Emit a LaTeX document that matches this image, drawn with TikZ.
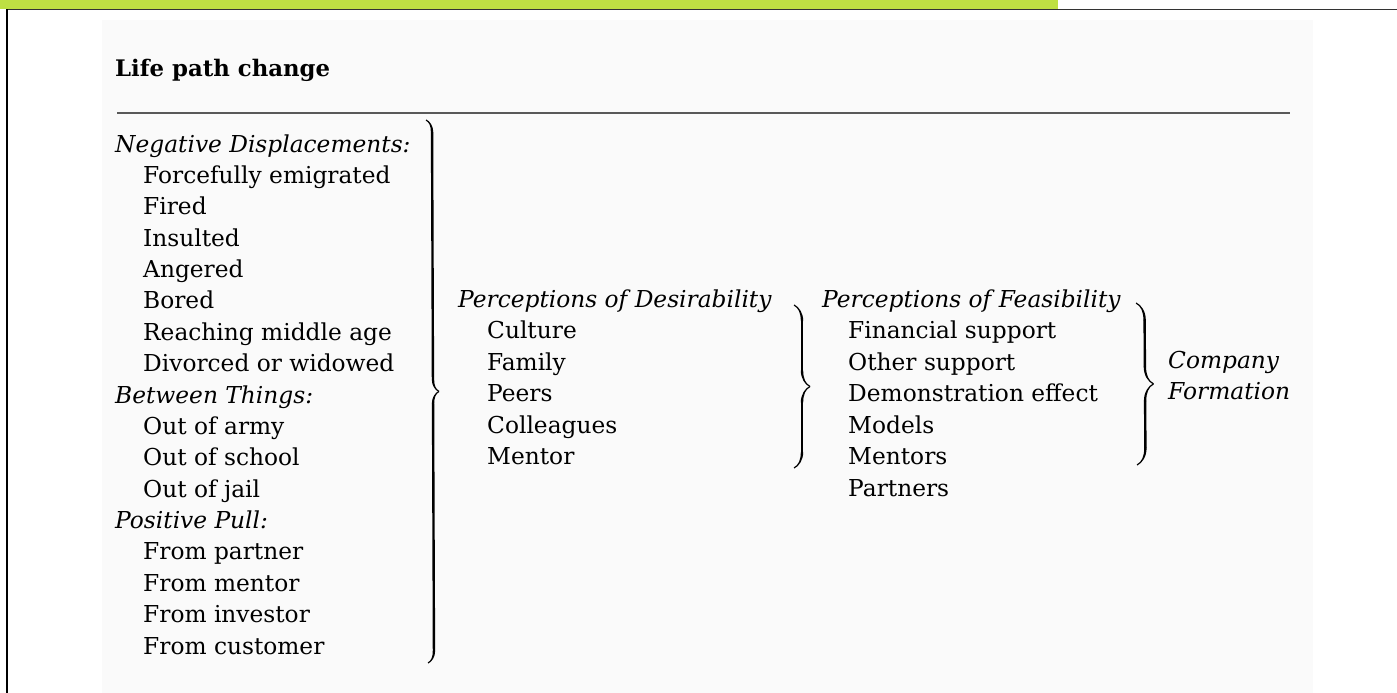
\documentclass[tikz,border=0pt]{standalone}
\usepackage{fontspec}
\setmainfont{DejaVu Serif}
\usepackage{tikz}
\usetikzlibrary{decorations.pathreplacing,calligraphy}

\definecolor{barlime}{HTML}{BEE043}
\newcommand{\lpfont}{\fontsize{23.3}{27}\selectfont}

\begin{document}
\begin{tikzpicture}[x=1pt, y=-1pt,
        txt/.style={anchor=base west, inner sep=0pt, font=\lpfont},
        hdr/.style={txt, font=\lpfont\itshape},
        cbrace/.style={decorate, decoration={calligraphic brace, amplitude=#1}, line width=2.4pt}]
        \useasboundingbox (0,0) rectangle (1397,693);
        % frame and panel
        \fill[black!2] (102,20) rectangle (1313,693);
        \fill[barlime] (0,0) rectangle (1058,9);
        \draw[black!80, line width=1.5pt] (7,9.5) -- (1397,9.5);
        \draw[black, line width=1.5pt] (7,9.5) -- (7,693);
        % title and rule
        \node[txt, font=\fontsize{22.8}{27}\selectfont\bfseries] (title) at (115,77) {Life path change};
        \draw[black!65, line width=1.5pt] (117,113) -- (1290,113);
        % left column
        \node[hdr] (neg) at (115,152) {Negative Displacements:};
        \node[txt] (emig) at (143,183.4) {Forcefully emigrated};
        \node[txt] (fired) at (143,214.8) {Fired};
        \node[txt] (insult) at (143,246.1) {Insulted};
        \node[txt] (anger) at (143,277.5) {Angered};
        \node[txt] (bored) at (143,308.9) {Bored};
        \node[txt] (midage) at (143,340.3) {Reaching middle age};
        \node[txt] (divorce) at (143,371.6) {Divorced or widowed};
        \node[hdr] (betw) at (115,403) {Between Things:};
        \node[txt] (army) at (143,434.4) {Out of army};
        \node[txt] (school) at (143,465.8) {Out of school};
        \node[txt] (jail) at (143,497.1) {Out of jail};
        \node[hdr] (pull) at (115,528.5) {Positive Pull:};
        \node[txt] (partner) at (143,559.9) {From partner};
        \node[txt] (mentor) at (143,591.3) {From mentor};
        \node[txt] (investor) at (143,622.6) {From investor};
        \node[txt] (customer) at (143,654) {From customer};
        % desirability
        \node[hdr] (desir) at (458,307) {Perceptions of Desirability};
        \node[txt] (culture) at (487,338.5) {Culture};
        \node[txt] (family) at (487,370) {Family};
        \node[txt] (peers) at (487,401.5) {Peers};
        \node[txt] (colleag) at (487,433) {Colleagues};
        \node[txt] (dmentor) at (487,464.5) {Mentor};
        % feasibility
        \node[hdr] (feas) at (822,307) {Perceptions of Feasibility};
        \node[txt] (finsup) at (848,338.5) {Financial support};
        \node[txt] (othsup) at (848,370) {Other support};
        \node[txt] (demo) at (848,401.5) {Demonstration effect};
        \node[txt] (models) at (848,433) {Models};
        \node[txt] (fmentors) at (848,464.5) {Mentors};
        \node[txt] (fpartners) at (848,496) {Partners};
        % outcome
        \node[hdr] (company) at (1168,368) {Company};
        \node[hdr] (formation) at (1168,399) {Formation};
        % braces
        \coordinate (b1top) at (426,120);
        \coordinate (b1bot) at (428,663);
        \coordinate (b2top) at (794,305);
        \coordinate (b2bot) at (794,468);
        \coordinate (b3top) at (1136,303);
        \coordinate (b3bot) at (1137,465);
        \draw[cbrace=12pt] (b1top) -- (b1bot);
        \draw[cbrace=16pt] (b2top) -- (b2bot);
        \draw[cbrace=17pt] (b3top) -- (b3bot);
    \end{tikzpicture}
\end{document}
